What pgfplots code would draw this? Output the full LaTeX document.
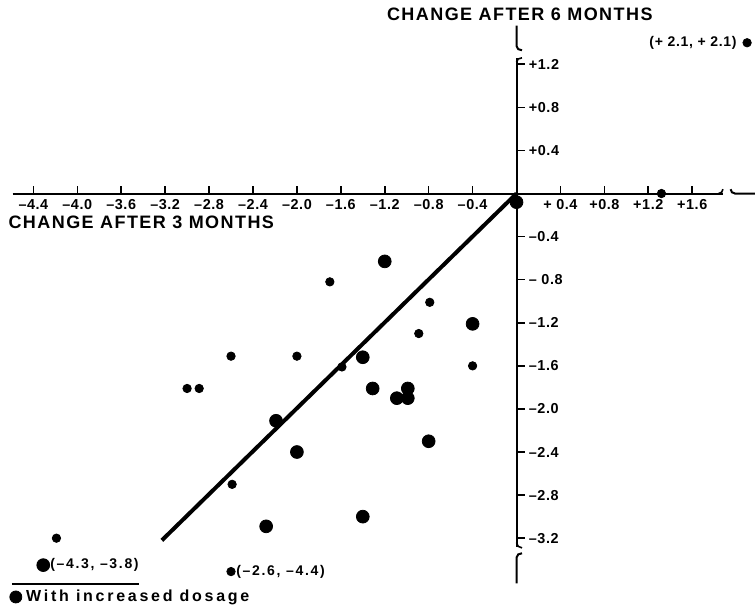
\documentclass[border=0pt]{standalone}
\usepackage{fontspec}
\setmainfont{Liberation Sans}
\newfontfamily\labfont[LetterSpace=8]{Liberation Sans}
\newfontfamily\tickfont[LetterSpace=4]{Liberation Sans}
\newfontfamily\legfont[LetterSpace=17]{Liberation Sans}
\newfontfamily\ptfont[LetterSpace=5]{Liberation Sans}
\newfontfamily\ptwfont[LetterSpace=12]{Liberation Sans}
\usepackage{pgfplots}
\pgfplotsset{compat=1.18}
\begin{document}
\begin{tikzpicture}
\begin{axis}[
  x=54.9pt, y=53.85pt,
  xmin=-4.59, xmax=1.88, ymin=-3.28, ymax=1.26,
  axis lines=middle,
  axis line style={-, line width=1pt, black},
  clip=false,
  tick align=inside,
  major tick length=4pt,
  tick style={black, line width=0.8pt},
  xtick={-4.4,-4,-3.6,-3.2,-2.8,-2.4,-2,-1.6,-1.2,-0.8,-0.4,0.4,0.8,1.2,1.6},
  xticklabels={–4.4,–4.0,–3.6,–3.2,–2.8,–2.4,–2.0,–1.6,–1.2,–0.8,–0.4,+ 0.4,+0.8,+1.2,+1.6},
  ytick={-3.2,-2.8,-2.4,-2,-1.6,-1.2,-0.8,-0.4,0.4,0.8,1.2},
  yticklabels={–3.2,–2.8,–2.4,–2.0,–1.6,–1.2,– 0.8,–0.4,+0.4,+0.8,+1.2},
  xticklabel style={font=\tickfont\bfseries\fontsize{7.2}{8}\selectfont, anchor=north, inner sep=1pt, yshift=-2pt},
  yticklabel style={font=\tickfont\bfseries\fontsize{7.2}{8}\selectfont, anchor=west, inner sep=1pt, xshift=5pt},
  legend style={at={(-0.0049,-0.1026)}, anchor=west, draw=none, fill=none, inner sep=0pt,
    font=\legfont\bfseries\fontsize{8}{9}\selectfont},
  legend cell align=left,
  legend image code/.code={\fill[black] (0.1cm,0cm) circle (3pt);},
]
% regression line
\addplot[black, line width=2pt, forget plot] coordinates {(0,0) (-3.23,-3.22)};
% patients with increased dosage (large dots)
\addplot[only marks, mark=*, mark size=3.2pt, black] coordinates {
  (0,-0.08) (-1.2,-0.63) (-0.40,-1.21) (-1.40,-1.52) (-1.31,-1.81) (-0.99,-1.81)
  (-1.09,-1.90) (-0.99,-1.90) (-2.19,-2.11) (-0.80,-2.30) (-2.0,-2.40)
  (-2.28,-3.09) (-1.40,-3.0) (-4.31,-3.45)
};
\addlegendentry{With increased dosage}
% other patients (small dots)
\addplot[only marks, mark=*, mark size=2.1pt, black, forget plot] coordinates {
  (1.32,0) (2.10,1.40) (-1.70,-0.82) (-0.79,-1.01) (-0.89,-1.30) (-2.60,-1.51)
  (-2.0,-1.51) (-1.59,-1.61) (-0.40,-1.60) (-3.0,-1.81) (-2.89,-1.81)
  (-2.59,-2.70) (-4.19,-3.20) (-2.60,-3.51)
};
% axis breaks
\draw[line width=0.8pt] (axis cs:1.84,0) to[out=0,in=-90] (axis cs:1.88,0.04);
\draw[line width=1pt] (axis cs:1.95,0.04) to[out=-90,in=180] (axis cs:1.99,0) -- (axis cs:2.172,0);
\draw[line width=1pt] (axis cs:0,1.56) -- (axis cs:0,1.37) to[out=-90,in=180] (axis cs:0.05,1.33);
\draw[line width=0.8pt] (axis cs:0,1.22) to[out=90,in=180] (axis cs:0.05,1.26);
\draw[line width=0.8pt] (axis cs:0,-3.24) to[out=-90,in=180] (axis cs:0.05,-3.29);
\draw[line width=1pt] (axis cs:0.05,-3.34) to[out=180,in=90] (axis cs:0,-3.38) -- (axis cs:0,-3.62);
% legend rule
\draw[line width=0.7pt] (axis cs:-4.595,-3.626) -- (axis cs:-3.438,-3.626);
% axis titles
\node[anchor=west, inner sep=0pt, font=\labfont\bfseries\fontsize{9}{10}\selectfont] at (axis cs:-4.63,-0.265) {CHANGE AFTER 3 MONTHS};
\node[inner sep=0pt, font=\labfont\bfseries\fontsize{9}{10}\selectfont] at (axis cs:0.03,1.667) {CHANGE AFTER 6 MONTHS};
% point annotations
\node[anchor=east, inner sep=0pt, font=\ptfont\bfseries\fontsize{7}{8}\selectfont] at (axis cs:2.008,1.40) {(+ 2.1, + 2.1)};
\node[anchor=west, inner sep=0pt, font=\ptwfont\bfseries\fontsize{7}{8}\selectfont] at (axis cs:-4.25,-3.45) {(–4.3, –3.8)};
\node[anchor=west, inner sep=0pt, font=\ptwfont\bfseries\fontsize{7}{8}\selectfont] at (axis cs:-2.555,-3.51) {(–2.6, –4.4)};
% picture frame
\coordinate (bl) at (axis cs:-4.704,-3.830);
\coordinate (tr) at (axis cs:2.172,1.797);
\end{axis}
\pgfresetboundingbox
\path[use as bounding box] (bl) rectangle (tr);
\end{tikzpicture}
\end{document}
